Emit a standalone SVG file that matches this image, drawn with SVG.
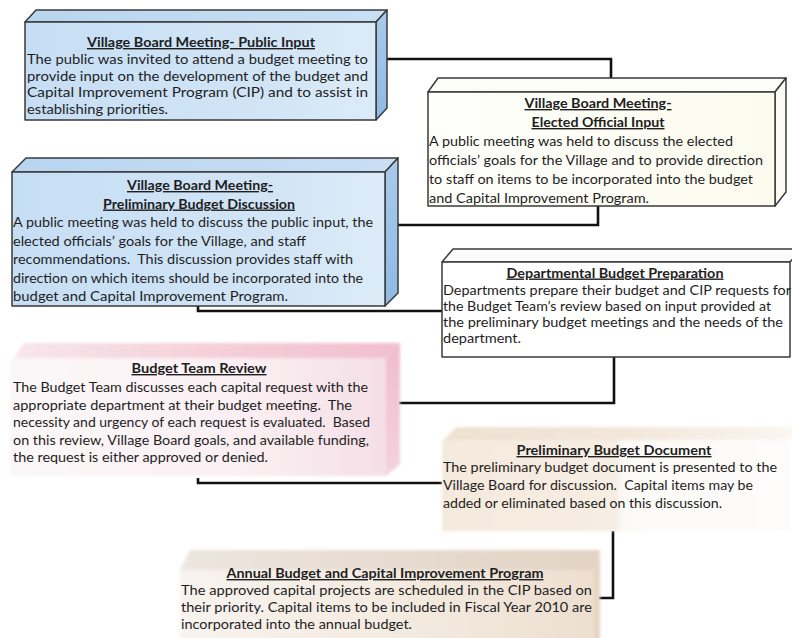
<svg xmlns="http://www.w3.org/2000/svg" width="792" height="638" viewBox="0 0 792 638">
  <defs>
    <style>
      text { font-family: "Lato", "Liberation Sans", sans-serif; font-size: 14px; fill: #1e1e1e; }
      .t { font-weight: bold; text-anchor: middle; text-decoration: underline; }
      .edge { stroke: #3a3a3a; stroke-width: 1.5; stroke-linejoin: round; }
      .wire { fill: none; stroke: #111; stroke-width: 2.6; stroke-linejoin: miter; }
    </style>
    <linearGradient id="blueFront" x1="0" y1="0" x2="1" y2="0">
      <stop offset="0" stop-color="#c6def4"/>
      <stop offset="0.7" stop-color="#d2e5f6"/>
      <stop offset="1" stop-color="#dcebf8"/>
    </linearGradient>
    <linearGradient id="blueTop" x1="0" y1="0" x2="1" y2="0">
      <stop offset="0" stop-color="#b9d5ef"/>
      <stop offset="1" stop-color="#c8dff4"/>
    </linearGradient>
    <linearGradient id="blueSide" x1="0" y1="0" x2="0" y2="1">
      <stop offset="0" stop-color="#a9cbec"/>
      <stop offset="1" stop-color="#8fb9e4"/>
    </linearGradient>
    <linearGradient id="creamFront" x1="0" y1="0" x2="1" y2="0">
      <stop offset="0" stop-color="#fefefb"/>
      <stop offset="1" stop-color="#fbfbef"/>
    </linearGradient>
    <linearGradient id="pinkFront" x1="0" y1="0" x2="1" y2="0">
      <stop offset="0" stop-color="#fbf7f8"/>
      <stop offset="0.6" stop-color="#faf0f3"/>
      <stop offset="1" stop-color="#f5dfe6"/>
    </linearGradient>
    <linearGradient id="pinkTop" x1="0" y1="0" x2="1" y2="0">
      <stop offset="0" stop-color="#f8e6eb"/>
      <stop offset="0.6" stop-color="#f4ccd8"/>
      <stop offset="1" stop-color="#f1bfcf"/>
    </linearGradient>
    <linearGradient id="pinkSide" x1="0" y1="0" x2="0" y2="1">
      <stop offset="0" stop-color="#f0bccd"/>
      <stop offset="1" stop-color="#f3d3de"/>
    </linearGradient>
    <linearGradient id="tanFront" x1="0" y1="0" x2="1" y2="0">
      <stop offset="0" stop-color="#f4e9dd"/>
      <stop offset="0.5" stop-color="#f6ede3"/>
      <stop offset="0.52" stop-color="#fcfaf7"/>
      <stop offset="1" stop-color="#fdfcfa"/>
    </linearGradient>
    <linearGradient id="tanTop" x1="0" y1="0" x2="1" y2="0">
      <stop offset="0" stop-color="#efe1d2"/>
      <stop offset="0.5" stop-color="#f2e6d9"/>
      <stop offset="1" stop-color="#faf6f1"/>
    </linearGradient>
    <linearGradient id="annFront" x1="0" y1="0" x2="1" y2="0">
      <stop offset="0" stop-color="#f8f3ee"/>
      <stop offset="0.5" stop-color="#f4ebe1"/>
      <stop offset="1" stop-color="#eddfd0"/>
    </linearGradient>
    <linearGradient id="annTop" x1="0" y1="0" x2="1" y2="0">
      <stop offset="0" stop-color="#ece6e0"/>
      <stop offset="0.5" stop-color="#e6dbcf"/>
      <stop offset="1" stop-color="#e2d3c4"/>
    </linearGradient>
    <filter id="soft" x="-5%" y="-10%" width="110%" height="120%">
      <feGaussianBlur stdDeviation="1.6"/>
    </filter>
  </defs>

  <rect width="792" height="638" fill="#ffffff"/>

  <!-- connectors between the steps -->
  <g id="connectors">
    <path class="wire" d="M384,59 H611 V79"/>
    <path class="wire" d="M598,206 V225 H398"/>
    <path class="wire" d="M198,306 V311 H442"/>
    <path class="wire" d="M614,357 V403 H399"/>
    <path class="wire" d="M198,478 V483 H442"/>
    <path class="wire" d="M613,531 V598 H599"/>
  </g>

  <!-- step 1: public input -->
  <g id="public-input">
    <polygon class="edge" points="25,22 36,10 387,10 376,22" fill="url(#blueTop)"/>
    <polygon class="edge" points="376,22 387,10 387,108 376,120" fill="url(#blueSide)"/>
    <rect class="edge" x="25" y="22" width="351" height="98" fill="url(#blueFront)"/>
    <text class="t" x="201" y="47" textLength="228" lengthAdjust="spacingAndGlyphs">Village Board Meeting- Public Input</text>
    <text x="27" y="64" textLength="341" lengthAdjust="spacingAndGlyphs">The public was invited to attend a budget meeting to</text>
    <text x="27" y="80.5" textLength="341" lengthAdjust="spacingAndGlyphs">provide input on the development of the budget and</text>
    <text x="27" y="97" textLength="341" lengthAdjust="spacingAndGlyphs">Capital Improvement Program (CIP) and to assist in</text>
    <text x="27" y="113.5" textLength="141" lengthAdjust="spacingAndGlyphs">establishing priorities.</text>
  </g>

  <!-- step 2: elected official input -->
  <g id="elected-official-input">
    <polygon class="edge" points="428,92 438,78 786,78 775,92" fill="#fdfdf8"/>
    <polygon class="edge" points="775,92 786,78 786,192 775,206" fill="#fbfbf3"/>
    <rect class="edge" x="428" y="92" width="347" height="114" fill="url(#creamFront)"/>
    <text class="t" x="598" y="108" textLength="147" lengthAdjust="spacingAndGlyphs">Village Board Meeting-</text>
    <text class="t" x="598" y="127" textLength="133" lengthAdjust="spacingAndGlyphs">Elected Official Input</text>
    <text x="429" y="146" textLength="304" lengthAdjust="spacingAndGlyphs">A public meeting was held to discuss the elected</text>
    <text x="429" y="165" textLength="334" lengthAdjust="spacingAndGlyphs">officials’ goals for the Village and to provide direction</text>
    <text x="429" y="184" textLength="324" lengthAdjust="spacingAndGlyphs">to staff on items to be incorporated into the budget</text>
    <text x="429" y="203" textLength="220" lengthAdjust="spacingAndGlyphs">and Capital Improvement Program.</text>
  </g>

  <!-- step 3: preliminary budget discussion -->
  <g id="preliminary-discussion">
    <polygon class="edge" points="12,172 26,158 398,158 385,172" fill="url(#blueTop)"/>
    <polygon class="edge" points="385,172 398,158 398,293 385,306" fill="url(#blueSide)"/>
    <rect class="edge" x="12" y="172" width="373" height="134" fill="url(#blueFront)"/>
    <text class="t" x="200" y="190" textLength="146" lengthAdjust="spacingAndGlyphs">Village Board Meeting-</text>
    <text class="t" x="199" y="208.5" textLength="192" lengthAdjust="spacingAndGlyphs">Preliminary Budget Discussion</text>
    <text x="13" y="227" textLength="360" lengthAdjust="spacingAndGlyphs">A public meeting was held to discuss the public input, the</text>
    <text x="13" y="245.5" textLength="293" lengthAdjust="spacingAndGlyphs">elected officials’ goals for the Village, and staff</text>
    <text x="13" y="264" textLength="340" lengthAdjust="spacingAndGlyphs" xml:space="preserve">recommendations.  This discussion provides staff with</text>
    <text x="13" y="282.5" textLength="350" lengthAdjust="spacingAndGlyphs">direction on which items should be incorporated into the</text>
    <text x="13" y="301" textLength="275" lengthAdjust="spacingAndGlyphs">budget and Capital Improvement Program.</text>
  </g>

  <!-- step 4: departmental budget preparation -->
  <g id="departmental-preparation">
    <polygon class="edge" points="442,262 453,249 802,249 790,262" fill="#fbfbfb"/>
    <rect class="edge" x="442" y="262" width="348" height="95" fill="#ffffff"/>
    <text class="t" x="615" y="277.5" textLength="217" lengthAdjust="spacingAndGlyphs">Departmental Budget Preparation</text>
    <text x="443" y="294.5" textLength="348" lengthAdjust="spacingAndGlyphs">Departments prepare their budget and CIP requests for</text>
    <text x="443" y="310.5" textLength="328" lengthAdjust="spacingAndGlyphs">the Budget Team’s review based on input provided at</text>
    <text x="443" y="326.5" textLength="340" lengthAdjust="spacingAndGlyphs">the preliminary budget meetings and the needs of the</text>
    <text x="443" y="342.5" textLength="78" lengthAdjust="spacingAndGlyphs">department.</text>
  </g>

  <!-- step 5: budget team review -->
  <g id="budget-team-review">
    <g filter="url(#soft)">
      <polygon points="14,358 24,343 400,343 386,358" fill="url(#pinkTop)"/>
      <polygon points="386,358 400,343 400,464 386,476" fill="url(#pinkSide)"/>
      <rect x="10" y="358" width="376" height="118" fill="url(#pinkFront)"/>
    </g>
    <text class="t" x="199" y="373" textLength="135" lengthAdjust="spacingAndGlyphs">Budget Team Review</text>
    <text x="13" y="392" textLength="355" lengthAdjust="spacingAndGlyphs">The Budget Team discusses each capital request with the</text>
    <text x="13" y="409.5" textLength="339" lengthAdjust="spacingAndGlyphs" xml:space="preserve">appropriate department at their budget meeting.  The</text>
    <text x="13" y="427" textLength="357" lengthAdjust="spacingAndGlyphs" xml:space="preserve">necessity and urgency of each request is evaluated.  Based</text>
    <text x="13" y="444.5" textLength="356" lengthAdjust="spacingAndGlyphs">on this review, Village Board goals, and available funding,</text>
    <text x="13" y="462" textLength="255" lengthAdjust="spacingAndGlyphs">the request is either approved or denied.</text>
  </g>

  <!-- step 6: preliminary budget document -->
  <g id="preliminary-document">
    <g filter="url(#soft)">
      <polygon points="444,440 456,427 796,427 790,440" fill="url(#tanTop)"/>
      <rect x="442" y="440" width="348" height="91" fill="url(#tanFront)"/>
    </g>
    <text class="t" x="614" y="455" textLength="195" lengthAdjust="spacingAndGlyphs">Preliminary Budget Document</text>
    <text x="443" y="472" textLength="334" lengthAdjust="spacingAndGlyphs">The preliminary budget document is presented to the</text>
    <text x="443" y="490" textLength="310" lengthAdjust="spacingAndGlyphs" xml:space="preserve">Village Board for discussion.  Capital items may be</text>
    <text x="443" y="508" textLength="279" lengthAdjust="spacingAndGlyphs">added or eliminated based on this discussion.</text>
  </g>

  <!-- step 7: annual budget and CIP -->
  <g id="annual-budget">
    <g filter="url(#soft)">
      <polygon points="180,570 190,550 600,550 594,570" fill="url(#annTop)"/>
      <polygon points="594,570 600,550 600,640 594,640" fill="#e6d4c2"/>
      <rect x="180" y="570" width="414" height="70" fill="url(#annFront)"/>
    </g>
    <text class="t" x="385" y="578" textLength="317" lengthAdjust="spacingAndGlyphs">Annual Budget and Capital Improvement Program</text>
    <text x="181" y="595" textLength="411" lengthAdjust="spacingAndGlyphs">The approved capital projects are scheduled in the CIP based on</text>
    <text x="181" y="612" textLength="411" lengthAdjust="spacingAndGlyphs">their priority. Capital items to be included in Fiscal Year 2010 are</text>
    <text x="181" y="629" textLength="231" lengthAdjust="spacingAndGlyphs">incorporated into the annual budget.</text>
  </g>
</svg>
